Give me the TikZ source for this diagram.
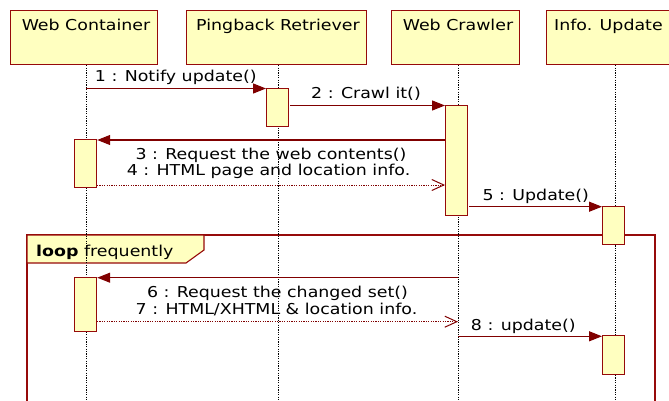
\documentclass[tikz,border=0pt]{standalone}
\usepackage{fontspec}
\setmainfont[FakeStretch=1.16]{DejaVu Sans}
\usetikzlibrary{arrows.meta}
\definecolor{bord}{RGB}{150,10,10}
\definecolor{lnc}{RGB}{128,0,0}
\definecolor{fillc}{RGB}{255,255,192}
\tikzset{
  objbox/.style={draw=bord, fill=fillc, line width=1.3pt, inner sep=0pt, anchor=north west},
  objtxt/.style={anchor=base, inner sep=0pt, font=\fontsize{15}{17}\selectfont},
  actbox/.style={draw=bord, fill=fillc, line width=1.2pt, inner sep=0pt, minimum width=22pt, anchor=north west},
  life/.style={black, line width=0.8pt, dash pattern=on 1.2pt off 1.2pt},
  msg/.style={draw=lnc, line width=1.1pt, -{Triangle[length=13pt,width=10pt]}},
  ret/.style={draw=lnc, line width=1pt, dash pattern=on 1.2pt off 1.2pt, -{Straight Barb[length=12pt,width=11pt,line width=1pt]}},
  lbl/.style={anchor=base, inner sep=0pt, font=\fontsize{15}{17}\selectfont},
  frm/.style={draw=bord, line width=1.1pt},
}
\begin{document}
\begin{tikzpicture}[x=1pt,y=-1pt]
\useasboundingbox (0,0) rectangle (669,401);
\clip (0,0) rectangle (669,401);
\fill[white] (0,0) rectangle (669,401);
% loop frame
\draw[frm] (27,235) rectangle (655,420);
\draw[frm, fill=fillc] (27,235) -- (204,235) -- (204,250) -- (186,263) -- (27,263) -- cycle;
\node[anchor=base west, inner sep=0pt, font=\fontsize{15}{17}\selectfont] (looplbl) at (36,256) {\textbf{loop} frequently};
% header objects
\node[objbox, minimum width=147pt, minimum height=54pt] (wc) at (10,10) {};
\node[objbox, minimum width=180pt, minimum height=54pt] (pr) at (186,10) {};
\node[objbox, minimum width=128pt, minimum height=54pt] (cr) at (391,10) {};
\node[objbox, minimum width=150pt, minimum height=54pt] (iu) at (546,10) {};
\node[objtxt] (wct) at (86,30.7) {Web Container};
\node[objtxt] (prt) at (278,30.7) {Pingback Retriever};
\node[objtxt] (crt) at (458,30.7) {Web Crawler};
\node[objtxt, anchor=base west] (iut) at (554,30.7) {Info. Update};
% lifelines
\coordinate (wcl) at (86,401);
\coordinate (prl) at (278,401);
\coordinate (crl) at (458,401);
\coordinate (iul) at (615,401);
\draw[life] (wc.south -| wcl) -- (wcl);
\draw[life] (pr.south -| prl) -- (prl);
\draw[life] (cr.south -| crl) -- (crl);
\draw[life] (iu.south -| iul) -- (iul);
% activations
\node[actbox, minimum height=38pt] (pra) at (266,88) {};
\node[actbox, minimum height=110pt] (cra) at (445,105) {};
\node[actbox, minimum height=48pt] (wca1) at (74,139) {};
\node[actbox, minimum height=38pt] (iua1) at (602,206) {};
\node[actbox, minimum height=54pt] (wca2) at (74,277) {};
\node[actbox, minimum height=39pt] (iua2) at (602,335) {};
% messages
\coordinate (m1) at (86,88.5);
\draw[msg] (m1) -- (pra.west |- m1);
\node[lbl] (l1) at (175.8,81.7) {1 : Notify update()};
\coordinate (m2) at (290,105.5);
\draw[msg] (m2) -- (cra.west |- m2);
\node[lbl] (l2) at (366,98.3) {2 : Crawl it()};
\coordinate (m3) at (445,140);
\draw[msg] (m3) -- (wca1.east |- m3);
\node[lbl] (l3) at (271,159.3) {3 : Request the web contents()};
\coordinate (m4) at (97,185);
\draw[ret] (m4) -- (cra.west |- m4);
\node[lbl] (l4) at (268.5,175.5) {4 : HTML page and location info.};
\coordinate (m5) at (469,206.7);
\draw[msg] (m5) -- (iua1.west |- m5);
\node[lbl] (l5) at (535.8,200) {5 : Update()};
\coordinate (m6) at (458,277.7);
\draw[msg] (m6) -- (wca2.east |- m6);
\node[lbl] (l6) at (277.5,297.7) {6 : Request the changed set()};
\coordinate (m7) at (97,321.7);
\draw[ret] (m7) -- (crl |- m7);
\node[lbl] (l7) at (276.5,314.3) {7 : HTML/XHTML \& location info.};
\coordinate (m8) at (458,336.3);
\draw[msg] (m8) -- (iua2.west |- m8);
\node[lbl] (l8) at (523.3,330) {8 : update()};
\end{tikzpicture}
\end{document}
